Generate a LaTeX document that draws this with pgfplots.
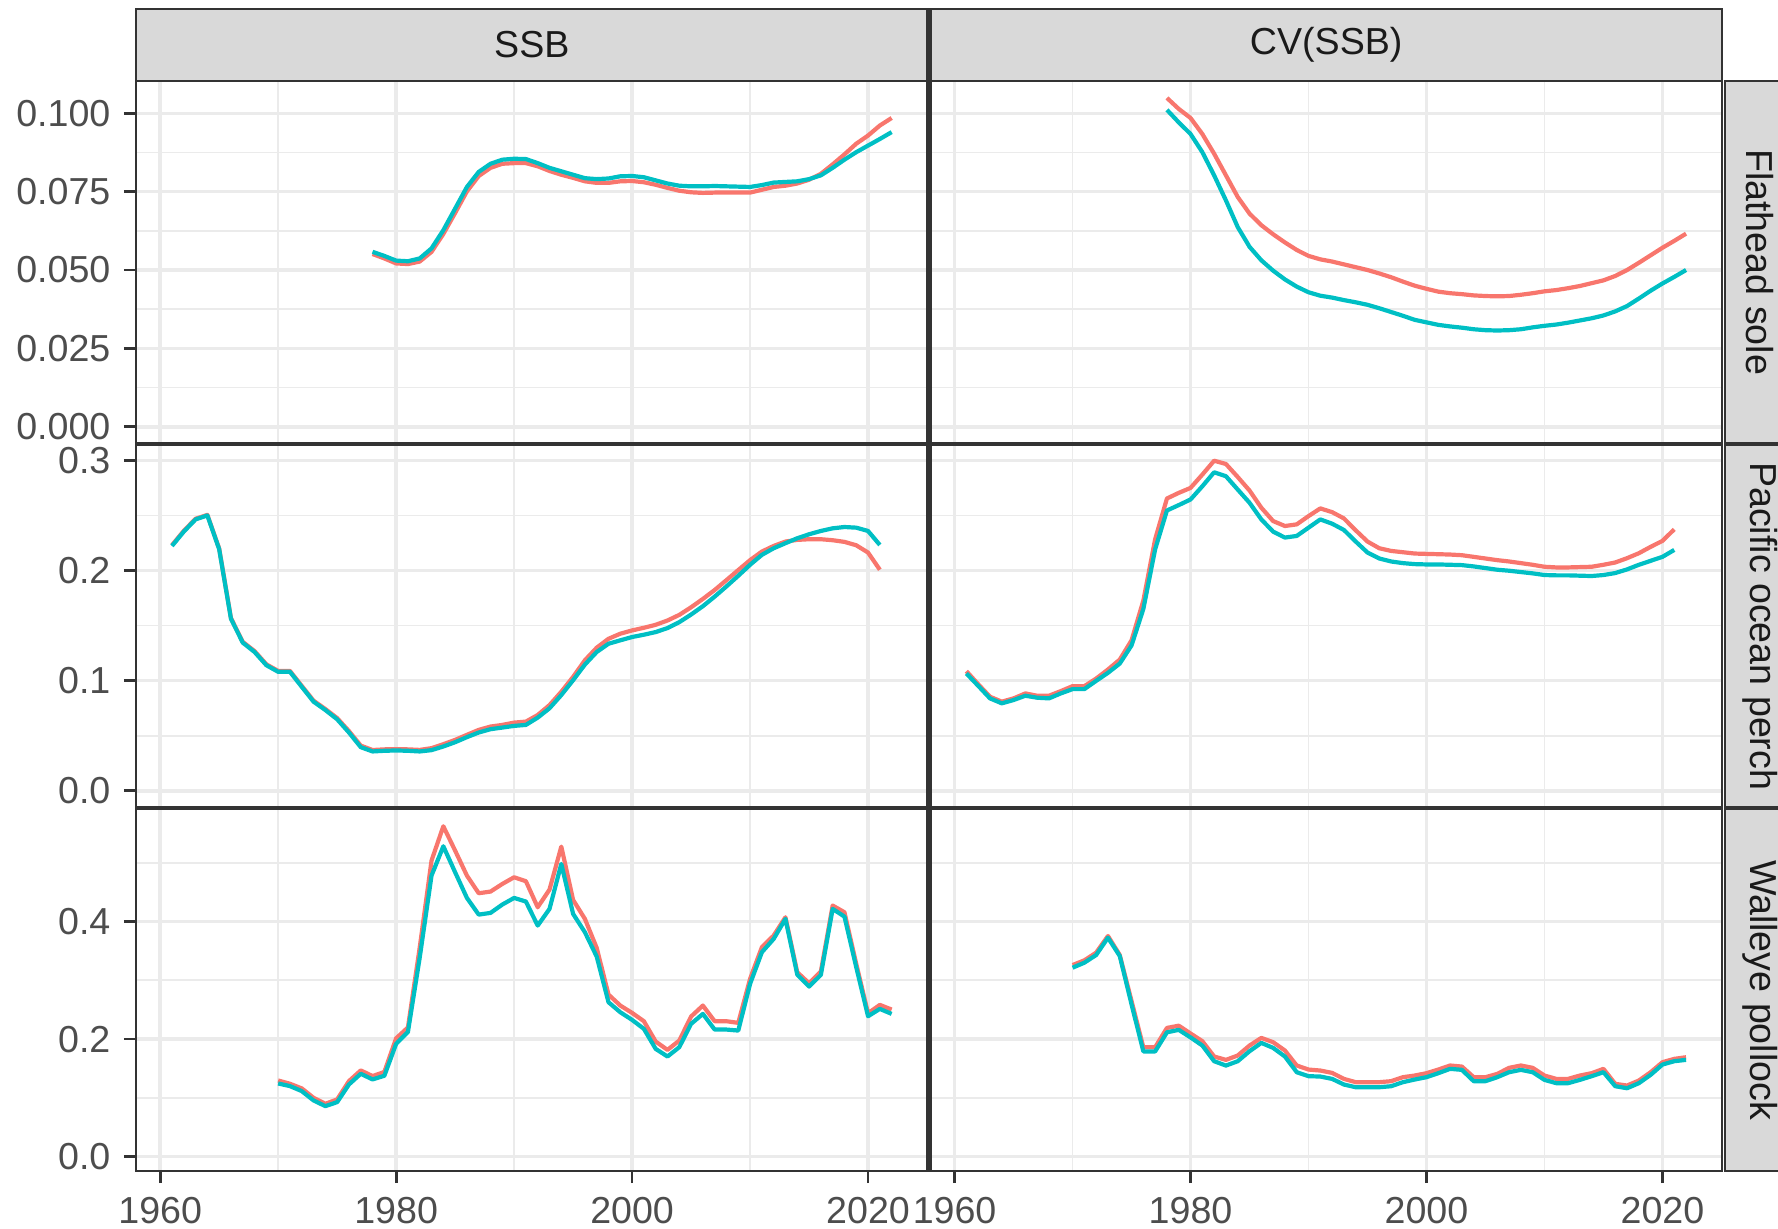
\documentclass[border=0pt]{standalone}
\usepackage{pgfplots}
\pgfplotsset{compat=1.18}
\usepackage{pgfplotstable}
\usepackage{fontspec}
\setmainfont{Liberation Sans}
\definecolor{cred}{HTML}{F8766D}
\definecolor{cteal}{HTML}{00BFC4}
\definecolor{gridc}{HTML}{EBEBEB}
\definecolor{bordc}{HTML}{333333}
\definecolor{tickc}{HTML}{4D4D4D}
\definecolor{stripc}{HTML}{D9D9D9}
\definecolor{striptext}{HTML}{1A1A1A}

\pgfplotstableread{
year red teal
1978 0.0551 0.0558
1979 0.0537 0.0545
1980 0.0521 0.0530
1981 0.0519 0.0528
1982 0.0527 0.0537
1983 0.0558 0.0569
1984 0.0615 0.0627
1985 0.0682 0.0696
1986 0.0751 0.0765
1987 0.0800 0.0813
1988 0.0826 0.0839
1989 0.0839 0.0852
1990 0.0841 0.0855
1991 0.0841 0.0854
1992 0.0831 0.0841
1993 0.0816 0.0826
1994 0.0804 0.0815
1995 0.0794 0.0804
1996 0.0783 0.0793
1997 0.0778 0.0790
1998 0.0778 0.0792
1999 0.0783 0.0799
2000 0.0784 0.0800
2001 0.0780 0.0796
2002 0.0772 0.0786
2003 0.0762 0.0776
2004 0.0753 0.0769
2005 0.0748 0.0767
2006 0.0746 0.0767
2007 0.0747 0.0768
2008 0.0747 0.0767
2009 0.0747 0.0766
2010 0.0747 0.0765
2011 0.0756 0.0771
2012 0.0765 0.0779
2013 0.0769 0.0781
2014 0.0776 0.0783
2015 0.0788 0.0790
2016 0.0807 0.0802
2017 0.0837 0.0826
2018 0.0869 0.0852
2019 0.0903 0.0876
2020 0.0929 0.0897
2021 0.0961 0.0918
2022 0.0985 0.0940
}\fsssb

\pgfplotstableread{
year red teal
1978 0.1049 0.1011
1979 0.1014 0.0971
1980 0.0985 0.0934
1981 0.0934 0.0876
1982 0.0871 0.0802
1983 0.0802 0.0722
1984 0.0733 0.0637
1985 0.0680 0.0574
1986 0.0643 0.0531
1987 0.0614 0.0498
1988 0.0588 0.0470
1989 0.0564 0.0447
1990 0.0545 0.0429
1991 0.0534 0.0418
1992 0.0527 0.0412
1993 0.0518 0.0404
1994 0.0509 0.0397
1995 0.0500 0.0389
1996 0.0489 0.0378
1997 0.0477 0.0366
1998 0.0463 0.0354
1999 0.0450 0.0341
2000 0.0440 0.0333
2001 0.0431 0.0325
2002 0.0426 0.0320
2003 0.0423 0.0316
2004 0.0419 0.0311
2005 0.0417 0.0308
2006 0.0416 0.0307
2007 0.0417 0.0308
2008 0.0421 0.0311
2009 0.0426 0.0317
2010 0.0432 0.0322
2011 0.0436 0.0326
2012 0.0442 0.0332
2013 0.0449 0.0339
2014 0.0458 0.0346
2015 0.0467 0.0355
2016 0.0481 0.0368
2017 0.0500 0.0385
2018 0.0523 0.0409
2019 0.0547 0.0434
2020 0.0571 0.0457
2021 0.0593 0.0478
2022 0.0616 0.0500
}\fscv

\pgfplotstableread{
year red teal
1961 0.2230 0.2223
1962 0.2360 0.2353
1963 0.2470 0.2464
1964 0.2505 0.2500
1965 0.2200 0.2193
1966 0.1568 0.1561
1967 0.1352 0.1345
1968 0.1268 0.1260
1969 0.1148 0.1140
1970 0.1088 0.1080
1971 0.1088 0.1080
1972 0.0952 0.0944
1973 0.0818 0.0809
1974 0.0742 0.0733
1975 0.0660 0.0649
1976 0.0542 0.0529
1977 0.0410 0.0396
1978 0.0370 0.0357
1979 0.0376 0.0363
1980 0.0378 0.0366
1981 0.0376 0.0363
1982 0.0371 0.0357
1983 0.0387 0.0369
1984 0.0423 0.0402
1985 0.0462 0.0441
1986 0.0508 0.0487
1987 0.0553 0.0529
1988 0.0583 0.0559
1989 0.0598 0.0574
1990 0.0619 0.0589
1991 0.0628 0.0598
1992 0.0688 0.0664
1993 0.0778 0.0749
1994 0.0899 0.0869
1995 0.1034 0.1004
1996 0.1185 0.1146
1997 0.1299 0.1260
1998 0.1380 0.1335
1999 0.1426 0.1366
2000 0.1456 0.1396
2001 0.1480 0.1417
2002 0.1507 0.1441
2003 0.1546 0.1477
2004 0.1597 0.1531
2005 0.1666 0.1600
2006 0.1742 0.1676
2007 0.1823 0.1763
2008 0.1913 0.1856
2009 0.2004 0.1952
2010 0.2094 0.2052
2011 0.2172 0.2142
2012 0.2223 0.2202
2013 0.2263 0.2248
2014 0.2278 0.2293
2015 0.2284 0.2329
2016 0.2284 0.2359
2017 0.2275 0.2383
2018 0.2260 0.2395
2019 0.2229 0.2389
2020 0.2163 0.2359
2021 0.2007 0.2232
}\popssb

\pgfplotstableread{
year red teal
1961 0.1086 0.1065
1962 0.0968 0.0953
1963 0.0854 0.0839
1964 0.0809 0.0794
1965 0.0839 0.0824
1966 0.0884 0.0863
1967 0.0863 0.0845
1968 0.0863 0.0839
1969 0.0905 0.0884
1970 0.0950 0.0923
1971 0.0950 0.0923
1972 0.1019 0.0998
1973 0.1101 0.1071
1974 0.1191 0.1155
1975 0.1366 0.1320
1976 0.1727 0.1651
1977 0.2284 0.2193
1978 0.2654 0.2545
1979 0.2705 0.2594
1980 0.2750 0.2645
1981 0.2871 0.2765
1982 0.2997 0.2892
1983 0.2967 0.2856
1984 0.2849 0.2735
1985 0.2726 0.2615
1986 0.2570 0.2464
1987 0.2449 0.2353
1988 0.2404 0.2299
1989 0.2419 0.2314
1990 0.2494 0.2389
1991 0.2564 0.2464
1992 0.2530 0.2425
1993 0.2473 0.2368
1994 0.2365 0.2263
1995 0.2263 0.2163
1996 0.2202 0.2109
1997 0.2178 0.2082
1998 0.2166 0.2067
1999 0.2154 0.2058
2000 0.2151 0.2055
2001 0.2148 0.2055
2002 0.2145 0.2052
2003 0.2139 0.2049
2004 0.2124 0.2037
2005 0.2109 0.2022
2006 0.2094 0.2007
2007 0.2082 0.1998
2008 0.2067 0.1986
2009 0.2052 0.1974
2010 0.2034 0.1959
2011 0.2028 0.1956
2012 0.2028 0.1956
2013 0.2031 0.1953
2014 0.2034 0.1950
2015 0.2052 0.1959
2016 0.2073 0.1977
2017 0.2112 0.2010
2018 0.2157 0.2052
2019 0.2215 0.2088
2020 0.2269 0.2124
2021 0.2374 0.2187
}\popcv

\pgfplotstableread{
year red teal
1970 0.1295 0.1244
1971 0.1239 0.1199
1972 0.1160 0.1114
1973 0.1000 0.0955
1974 0.0898 0.0858
1975 0.0972 0.0926
1976 0.1284 0.1227
1977 0.1466 0.1409
1978 0.1370 0.1313
1979 0.1440 0.1375
1980 0.2013 0.1919
1981 0.2198 0.2121
1982 0.3560 0.3390
1983 0.5040 0.4784
1984 0.5624 0.5284
1985 0.5210 0.4841
1986 0.4784 0.4404
1987 0.4484 0.4120
1988 0.4512 0.4149
1989 0.4642 0.4291
1990 0.4756 0.4404
1991 0.4688 0.4342
1992 0.4245 0.3933
1993 0.4546 0.4217
1994 0.5278 0.4983
1995 0.4370 0.4132
1996 0.4047 0.3820
1997 0.3553 0.3405
1998 0.2758 0.2628
1999 0.2571 0.2457
2000 0.2446 0.2327
2001 0.2304 0.2174
2002 0.1958 0.1833
2003 0.1816 0.1703
2004 0.1975 0.1862
2005 0.2384 0.2259
2006 0.2571 0.2429
2007 0.2304 0.2162
2008 0.2304 0.2162
2009 0.2276 0.2145
2010 0.3025 0.2940
2011 0.3564 0.3479
2012 0.3763 0.3706
2013 0.4075 0.4047
2014 0.3139 0.3099
2015 0.2951 0.2894
2016 0.3150 0.3093
2017 0.4274 0.4217
2018 0.4160 0.4086
2019 0.3280 0.3224
2020 0.2440 0.2389
2021 0.2582 0.2514
2022 0.2503 0.2429
}\wpssb

\pgfplotstableread{
year red teal
1970 0.3261 0.3216
1971 0.3341 0.3301
1972 0.3472 0.3432
1973 0.3756 0.3727
1974 0.3432 0.3415
1975 0.2648 0.2591
1976 0.1860 0.1790
1977 0.1860 0.1790
1978 0.2190 0.2115
1979 0.2228 0.2157
1980 0.2095 0.2028
1981 0.1964 0.1890
1982 0.1703 0.1623
1983 0.1646 0.1549
1984 0.1720 0.1623
1985 0.1890 0.1793
1986 0.2020 0.1935
1987 0.1947 0.1850
1988 0.1805 0.1703
1989 0.1550 0.1436
1990 0.1481 0.1368
1991 0.1464 0.1362
1992 0.1424 0.1322
1993 0.1322 0.1226
1994 0.1266 0.1180
1995 0.1266 0.1180
1996 0.1266 0.1180
1997 0.1283 0.1197
1998 0.1351 0.1266
1999 0.1379 0.1311
2000 0.1419 0.1351
2001 0.1481 0.1419
2002 0.1550 0.1493
2003 0.1532 0.1476
2004 0.1351 0.1283
2005 0.1351 0.1283
2006 0.1407 0.1351
2007 0.1510 0.1436
2008 0.1550 0.1476
2009 0.1510 0.1436
2010 0.1379 0.1305
2011 0.1322 0.1249
2012 0.1322 0.1249
2013 0.1379 0.1305
2014 0.1419 0.1368
2015 0.1493 0.1436
2016 0.1237 0.1197
2017 0.1209 0.1163
2018 0.1294 0.1249
2019 0.1436 0.1391
2020 0.1606 0.1566
2021 0.1663 0.1623
2022 0.1691 0.1646
}\wpcv

\pgfplotsset{
  panel/.style={
    scale only axis, width=197.9pt, height=90.5pt,
    xmin=1957.95, xmax=2025.05,
    xtick={1960,1980,2000,2020}, minor xtick={1970,1990,2010},
    xticklabels={1960,1980,2000,2020},
    xmajorgrids, xminorgrids, ymajorgrids, yminorgrids,
    major grid style={gridc, line width=0.9pt},
    minor grid style={gridc, line width=0.45pt},
    axis line style={bordc, line width=0.6pt},
    tick align=outside, major tick length=3pt, minor tick length=0pt,
    tick style={bordc, line width=0.7pt},
    ticklabel style={font=\fontsize{9.4}{11}\selectfont, text=tickc},
    yticklabel style={inner xsep=3.2pt},
    xticklabel style={inner ysep=3.2pt},
    xmajorticks=false, ymajorticks=false,
    xtick pos=bottom, ytick pos=left,
    scaled ticks=false,
  },
  row1/.style={ymin=-0.00525, ymax=0.11025,
    ytick={0,0.025,0.05,0.075,0.1}, minor ytick={0.0125,0.0375,0.0625,0.0875},
    yticklabels={0.000,0.025,0.050,0.075,0.100}},
  row2/.style={ymin=-0.0149, ymax=0.3138,
    ytick={0,0.1,0.2,0.3}, minor ytick={0.05,0.15,0.25},
    yticklabels={0.0,0.1,0.2,0.3}},
  row3/.style={ymin=-0.025, ymax=0.5915,
    ytick={0,0.2,0.4}, minor ytick={0.1,0.3,0.5},
    yticklabels={0.0,0.2,0.4}},
  redline/.style={cred, line width=1.05pt, line join=round, no markers},
  tealline/.style={cteal, line width=1.05pt, line join=round, no markers},
}

\begin{document}
\begin{tikzpicture}[font=\fontsize{9.4}{11}\selectfont]
\useasboundingbox (0pt,0pt) rectangle (444.5pt,307.25pt);

% strips top
\draw[fill=stripc, draw=bordc, line width=0.6pt] (34pt,286.95pt) rectangle (231.9pt,305pt);
\draw[fill=stripc, draw=bordc, line width=0.6pt] (232.6pt,286.95pt) rectangle (430.5pt,305pt);
\node[text=striptext] at (132.95pt,296pt) {SSB};
\node[text=striptext] at (331.55pt,296pt) {CV(SSB)};

% strips right
\draw[fill=stripc, draw=bordc, line width=0.6pt] (431.2pt,196.45pt) rectangle (449pt,286.95pt);
\draw[fill=stripc, draw=bordc, line width=0.6pt] (431.2pt,105.45pt) rectangle (449pt,195.95pt);
\draw[fill=stripc, draw=bordc, line width=0.6pt] (431.2pt,14.45pt) rectangle (449pt,104.95pt);
\node[text=striptext, rotate=-90] at (440pt,241.7pt) {Flathead sole};
\node[text=striptext, rotate=-90] at (440pt,150.7pt) {Pacific ocean perch};
\node[text=striptext, rotate=-90] at (440pt,59.7pt) {Walleye pollock};

% Row 1
\begin{axis}[panel, row1, at={(34pt,196.45pt)}, anchor=south west, ymajorticks=true]
\addplot[redline] table[x=year,y=red]{\fsssb};
\addplot[tealline] table[x=year,y=teal]{\fsssb};
\end{axis}
\begin{axis}[panel, row1, at={(232.6pt,196.45pt)}, anchor=south west]
\addplot[redline] table[x=year,y=red]{\fscv};
\addplot[tealline] table[x=year,y=teal]{\fscv};
\end{axis}

% Row 2
\begin{axis}[panel, row2, at={(34pt,105.45pt)}, anchor=south west, ymajorticks=true]
\addplot[redline] table[x=year,y=red]{\popssb};
\addplot[tealline] table[x=year,y=teal]{\popssb};
\end{axis}
\begin{axis}[panel, row2, at={(232.6pt,105.45pt)}, anchor=south west]
\addplot[redline] table[x=year,y=red]{\popcv};
\addplot[tealline] table[x=year,y=teal]{\popcv};
\end{axis}

% Row 3
\begin{axis}[panel, row3, at={(34pt,14.45pt)}, anchor=south west, ymajorticks=true, xmajorticks=true]
\addplot[redline] table[x=year,y=red]{\wpssb};
\addplot[tealline] table[x=year,y=teal]{\wpssb};
\end{axis}
\begin{axis}[panel, row3, at={(232.6pt,14.45pt)}, anchor=south west, xmajorticks=true]
\addplot[redline] table[x=year,y=red]{\wpcv};
\addplot[tealline] table[x=year,y=teal]{\wpcv};
\end{axis}
\end{tikzpicture}
\end{document}
